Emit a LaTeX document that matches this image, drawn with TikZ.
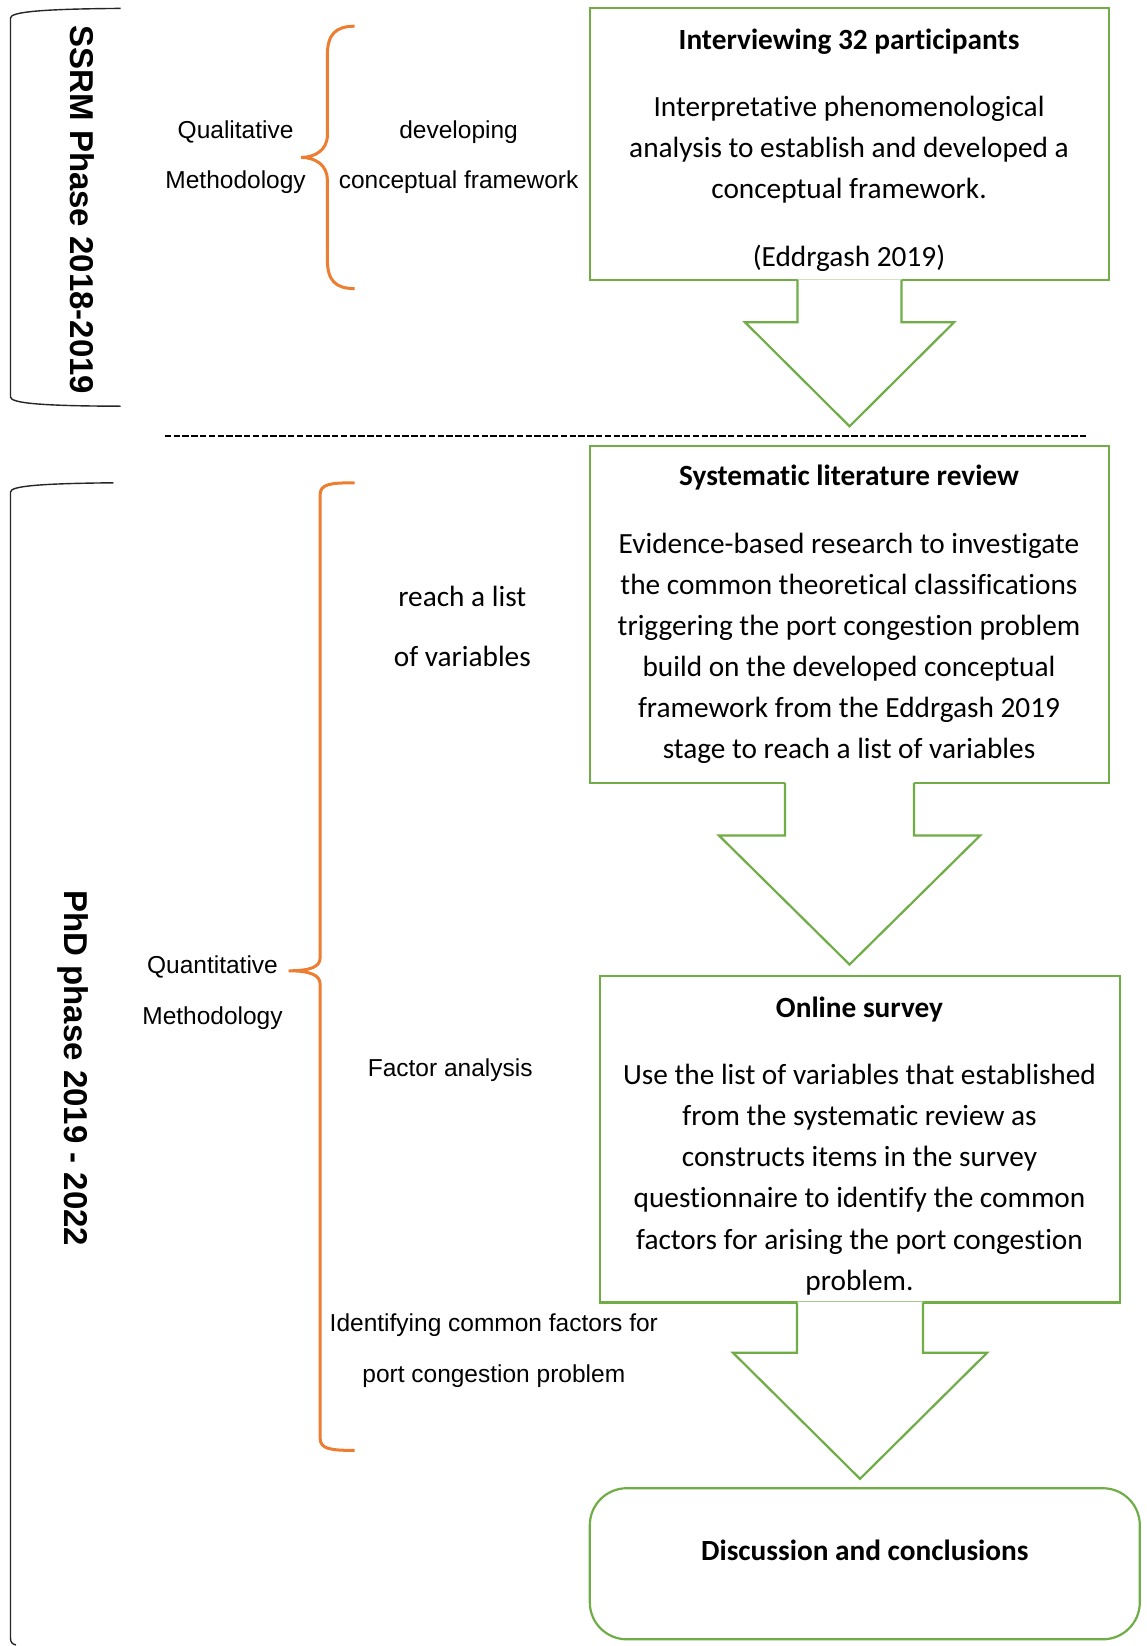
\documentclass[tikz,border=0pt]{standalone}
\usepackage{fontspec}
\setmainfont{Carlito}[Ligatures={NoCommon}]
\newfontfamily\arialfont{Liberation Sans}[Ligatures={NoCommon}]
\usetikzlibrary{calc}
\definecolor{boxgreen}{HTML}{70AD47}
\definecolor{braceorange}{HTML}{ED7D31}

% Block arrow hanging below a box: #1 box, #2 shaft half width, #3 shaft length,
% #4 head half width, #5 head length, #6 name of the tip coordinate
\newcommand\downarrowblock[6]{%
  \coordinate (#6) at ($(#1.south)+(0,#3+#5)$);
  \fill[white] ($(#1.south)+(-#2,-2)$) -- ($(#1.south)+(-#2,#3)$) -- ($(#1.south)+(-#4,#3)$)
     -- (#6) -- ($(#1.south)+(#4,#3)$) -- ($(#1.south)+(#2,#3)$) -- ($(#1.south)+(#2,-2)$) -- cycle;
  \draw[blockarrow] ($(#1.south)+(-#2,0)$) -- ($(#1.south)+(-#2,#3)$) -- ($(#1.south)+(-#4,#3)$)
     -- (#6) -- ($(#1.south)+(#4,#3)$) -- ($(#1.south)+(#2,#3)$) -- ($(#1.south)+(#2,0)$);
}

\begin{document}
\begin{tikzpicture}[x=1pt,y=-1pt,
  gbox/.style={draw=boxgreen, line width=2.2pt, inner sep=0pt},
  boxtitle/.style={font=\fontsize{29.3}{35}\selectfont\bfseries, inner sep=0pt},
  boxbody/.style={font=\fontsize{29.3}{41.15}\selectfont, align=center, inner sep=0pt},
  sidelabel/.style={font=\arialfont\fontsize{24.5}{50.4}\selectfont, align=center, inner sep=0pt},
  sidelabelc/.style={font=\fontsize{29.3}{60}\selectfont, align=center, inner sep=0pt},
  phaselabel/.style={font=\arialfont\bfseries\fontsize{33}{39}\selectfont, rotate=-90, inner sep=0pt},
  obrace/.style={draw=braceorange, line width=3pt},
  phasebracket/.style={draw=black!85, line width=1.4pt},
  blockarrow/.style={draw=boxgreen, line width=2.2pt, line join=miter, line cap=rect},
]
\useasboundingbox (0,0) rectangle (1146,1646);
\fill[white] (0,0) rectangle (1146,1646);

% ---------- phase brackets ----------
\draw[phasebracket] (120.7,8.4) .. controls (40,9) and (10.5,12) .. (10.5,18)
  -- (10.5,397) .. controls (10.5,403) and (40,406) .. (120.7,406.2);
\draw[phasebracket] (113.3,482.8) .. controls (40,483.5) and (10.5,486) .. (10.5,492)
  -- (10.5,1638) .. controls (10.5,1642) and (12,1644) .. (16,1645);

\node[phaselabel] (ssrm) at (81.9,209.9) {SSRM Phase 2018-2019};
\node[phaselabel] (phd) at (73.5,1068.4) {PhD phase 2019 - 2022};

% ---------- orange braces ----------
\draw[obrace] (354.7,26.2) .. controls (335,26.2) and (327.4,35) .. (327.4,55)
  -- (327.4,135) .. controls (327.4,150) and (315,157.4) .. (301.2,157.4)
  .. controls (315,157.4) and (327.4,165) .. (327.4,180)
  -- (327.4,260) .. controls (327.4,280) and (335,288.6) .. (354.7,288.6);
\draw[obrace] (354.7,482.8) .. controls (330,482.8) and (320.1,484) .. (320.1,495)
  -- (320.1,958) .. controls (320.1,967) and (310,970.8) .. (288.6,970.8)
  .. controls (310,970.8) and (320.1,975) .. (320.1,984)
  -- (320.1,1438) .. controls (320.1,1449) and (330,1450.4) .. (354.7,1450.4);

% ---------- side labels ----------
\node[sidelabel] (qual) at (235.6,157.3) {Qualitative\\Methodology};
\node[sidelabel] (dev) at (458.6,157.3) {developing\\conceptual framework};
\node[sidelabelc] (reach) at (462.3,626.5) {reach a list\\of variables};
\node[sidelabel] (quant) at (212.5,992.7) {Quantitative\\Methodology};
\node[sidelabel] (fa) at (450.2,1070.4) {Factor analysis};
\node[sidelabel] (ident) at (493.8,1350.6) {Identifying common factors for\\port congestion problem};

% ---------- divider between the phases ----------
\coordinate (divL) at (164.8,435.5);
\coordinate (divR) at (1088.3,435.5);
\draw[line width=2pt, dash pattern=on 6.3pt off 2.5pt] (divL) -- (divR);

% ---------- step boxes ----------
\node[gbox, minimum width=519.5pt, minimum height=271.8pt] (b1) at (849.55,144.3) {};
\node[gbox, minimum width=519.5pt, minimum height=336.9pt] (b2) at (849.55,614.45) {};
\node[gbox, minimum width=519.5pt, minimum height=326.4pt] (b3) at (860.05,1139.2) {};
\node[gbox, rounded corners=37pt, minimum width=550pt, minimum height=151.1pt] (b4) at (864.8,1563.75) {};

\downarrowblock{b1}{52}{41}{104.5}{104}{t1}
\downarrowblock{b2}{64.5}{51.5}{130.6}{129}{t2}
\downarrowblock{b3}{63}{49.3}{127}{126}{t3}

% ---------- box texts ----------
\node[boxtitle] (b1title) at (849,41.9) {Interviewing 32 participants};
\node[boxbody] (b1body) at (849,149.45) {Interpretative phenomenological\\analysis to establish and developed a\\conceptual framework.};
\node[boxbody] (b1cite) at (849,258.1) {(Eddrgash 2019)};

\node[boxtitle] (b2title) at (849,477.4) {Systematic literature review};
\node[boxbody] (b2body) at (849,648.45) {Evidence-based research to investigate\\the common theoretical classifications\\triggering the port congestion problem\\build on the developed conceptual\\framework from the Eddrgash 2019\\stage to reach a list of variables};

\node[boxtitle] (b3title) at (859.5,1009.5) {Online survey};
\node[boxbody] (b3body) at (859.5,1179.55) {Use the list of variables that established\\from the systematic review as\\constructs items in the survey\\questionnaire to identify the common\\factors for arising the port congestion\\problem.};

\node[boxtitle] (b4title) at (864.8,1550) {Discussion and conclusions};
\end{tikzpicture}
\end{document}
